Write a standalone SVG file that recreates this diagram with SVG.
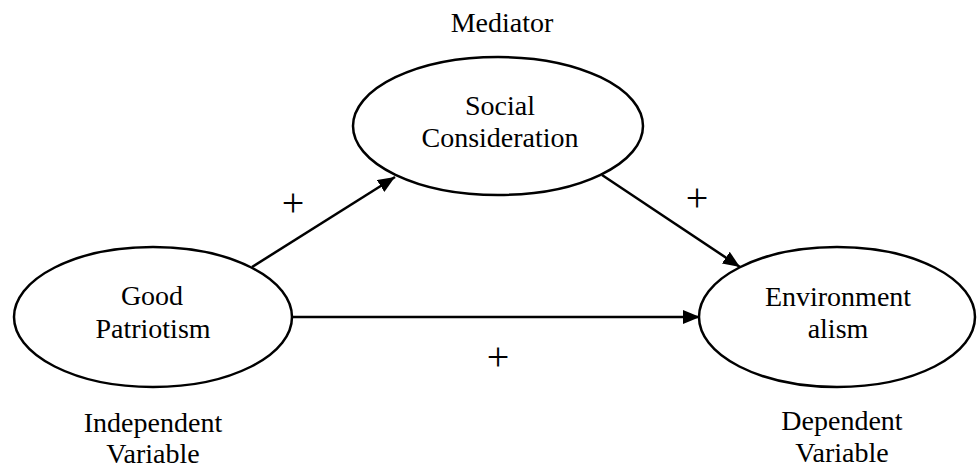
<svg xmlns="http://www.w3.org/2000/svg" width="978" height="469" viewBox="0 0 978 469">
<style>
.node{fill:#fff;stroke:#000;stroke-width:2.5}
.t{font-family:"Liberation Serif","Times New Roman",serif;font-size:28px;fill:#000;text-anchor:middle}
.plus{font-family:"Liberation Serif","Times New Roman",serif;font-size:40px;fill:#000;text-anchor:middle}
.edge{stroke:#000;stroke-width:2.5;fill:none;marker-end:url(#arrow)}
</style>
<defs>
<marker id="arrow" markerUnits="userSpaceOnUse" markerWidth="18" markerHeight="14" refX="17" refY="7" orient="auto">
<path d="M0,0 L17,7 L0,14 z" fill="#000"/>
</marker>
</defs>
<rect width="978" height="469" fill="#fff"/>
<g id="connectors">
<line class="edge" x1="252" y1="267" x2="395" y2="177"/>
<line class="edge" x1="602" y1="175" x2="740" y2="267"/>
<line class="edge" x1="291" y1="317" x2="700" y2="317"/>
<text class="plus" x="293" y="216">+</text>
<text class="plus" x="697" y="211">+</text>
<text class="plus" x="498" y="370">+</text>
</g>
<g id="social-consideration">
<text class="t" x="502" y="32">Mediator</text>
<ellipse class="node" cx="498" cy="126" rx="145" ry="69"/>
<text class="t" x="500" y="115">Social</text>
<text class="t" x="500" y="147">Consideration</text>
</g>
<g id="good-patriotism">
<ellipse class="node" cx="153" cy="317" rx="139" ry="70"/>
<text class="t" x="152" y="305">Good</text>
<text class="t" x="153" y="338">Patriotism</text>
<text class="t" x="153" y="432">Independent</text>
<text class="t" x="153" y="463">Variable</text>
</g>
<g id="environmentalism">
<ellipse class="node" cx="837" cy="317" rx="138" ry="70"/>
<text class="t" x="838" y="306">Environment</text>
<text class="t" x="838" y="338">alism</text>
<text class="t" x="842" y="430">Dependent</text>
<text class="t" x="842" y="462">Variable</text>
</g>
</svg>
